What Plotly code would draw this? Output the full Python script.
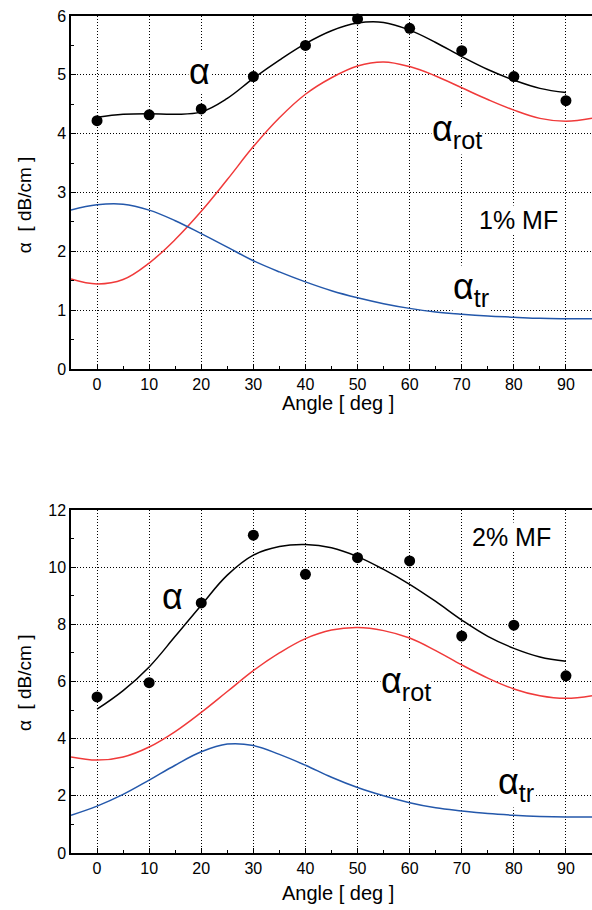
import plotly.graph_objects as go

# ---------------- data ----------------
# measured points (both panels)
angle_pts = [0, 10, 20, 30, 40, 50, 60, 70, 80, 90]
alpha_pts_1 = [4.22, 4.32, 4.42, 4.97, 5.50, 5.95, 5.79, 5.41, 4.97, 4.56]
alpha_pts_2 = [5.46, 5.96, 8.75, 11.12, 9.75, 10.33, 10.22, 7.59, 7.97, 6.20]

# fitted alpha curve (0..90)
angle_fit = [0, 5, 10, 15, 20, 25, 30, 35, 40, 45, 50, 55, 60, 65, 70, 75, 80, 85, 90]
alpha_fit_1 = [4.28, 4.33, 4.34, 4.33, 4.37, 4.60, 4.94, 5.25, 5.53, 5.75, 5.88, 5.89,
               5.76, 5.55, 5.31, 5.09, 4.91, 4.77, 4.70]
alpha_fit_2 = [5.03, 5.68, 6.51, 7.58, 8.67, 9.72, 10.42, 10.72, 10.79, 10.68, 10.37,
               9.92, 9.40, 8.80, 8.15, 7.58, 7.16, 6.86, 6.71]

# component curves (-5..95)
angle_comp = [-5, 0, 5, 10, 15, 20, 25, 30, 35, 40, 45, 50, 55, 60, 65, 70, 75, 80, 85, 90, 95]
alpha_rot_1 = [1.53, 1.445, 1.52, 1.80, 2.20, 2.68, 3.22, 3.78, 4.27, 4.67, 4.95, 5.15,
               5.22, 5.14, 4.98, 4.78, 4.58, 4.40, 4.26, 4.21, 4.26]
alpha_tr_1 = [2.70, 2.79, 2.80, 2.70, 2.52, 2.30, 2.07, 1.84, 1.65, 1.48, 1.33, 1.21,
              1.11, 1.03, 0.97, 0.93, 0.90, 0.88, 0.86, 0.855, 0.855]
alpha_rot_2 = [3.36, 3.25, 3.36, 3.71, 4.25, 4.92, 5.65, 6.38, 7.00, 7.50, 7.80, 7.89,
               7.78, 7.52, 7.08, 6.58, 6.12, 5.74, 5.50, 5.41, 5.50]
alpha_tr_2 = [1.32, 1.64, 2.05, 2.55, 3.07, 3.54, 3.81, 3.76, 3.45, 3.07, 2.65, 2.29,
              2.00, 1.76, 1.58, 1.47, 1.38, 1.32, 1.28, 1.26, 1.26]

x_ticks = [0, 10, 20, 30, 40, 50, 60, 70, 80, 90]
y_ticks_1 = [0, 1, 2, 3, 4, 5, 6]
y_ticks_2 = [0, 2, 4, 6, 8, 10, 12]

BLACK = "#000000"
RED = "#f03a3a"
BLUE = "#2458ab"
FONT = "Liberation Sans, Arial, sans-serif"

fig = go.Figure()

panels = [
    ("x", "y", alpha_pts_1, alpha_fit_1, alpha_rot_1, alpha_tr_1),
    ("x2", "y2", alpha_pts_2, alpha_fit_2, alpha_rot_2, alpha_tr_2),
]
for xa, ya, pts, fit, rot, tr in panels:
    fig.add_trace(go.Scatter(x=angle_comp, y=rot, mode="lines",
                             line=dict(color=RED, width=1.5, shape="spline", smoothing=1.1),
                             xaxis=xa, yaxis=ya, showlegend=False))
    fig.add_trace(go.Scatter(x=angle_comp, y=tr, mode="lines",
                             line=dict(color=BLUE, width=1.5, shape="spline", smoothing=1.1),
                             xaxis=xa, yaxis=ya, showlegend=False))
    fig.add_trace(go.Scatter(x=angle_fit, y=fit, mode="lines",
                             line=dict(color=BLACK, width=1.5, shape="spline", smoothing=1.1),
                             xaxis=xa, yaxis=ya, showlegend=False))
    fig.add_trace(go.Scatter(x=angle_pts, y=pts, mode="markers", marker=dict(color=BLACK, size=11),
                             cliponaxis=False, xaxis=xa, yaxis=ya, showlegend=False))

GRID_DASH = "1px,2px"
axis_common = dict(
    showline=True, linecolor=BLACK, linewidth=1.5,
    ticks="inside", ticklen=5, tickcolor=BLACK, tickwidth=1,
    showgrid=True, gridcolor=BLACK, gridwidth=1, griddash=GRID_DASH,
    zeroline=False, automargin=False,
    tickfont=dict(family=FONT, size=16, color=BLACK),
)

xcommon = dict(axis_common, range=[-5, 95], tickvals=x_ticks, mirror=True,
               minor=dict(ticks="inside", ticklen=3, tickcolor=BLACK, dtick=5, tick0=0, showgrid=False))

fig.update_layout(
    width=592, height=910,
    margin=dict(l=71, r=0, t=16, b=57),
    plot_bgcolor="white", paper_bgcolor="white",
    font=dict(family=FONT, color=BLACK),
    xaxis=dict(xcommon, domain=[0, 1], anchor="y"),
    yaxis=dict(axis_common, domain=[0.5783, 1], anchor="x", range=[0, 6], tickvals=y_ticks_1,
               minor=dict(ticks="inside", ticklen=3, tickcolor=BLACK, dtick=0.5, tick0=0, showgrid=False)),
    xaxis2=dict(xcommon, domain=[0, 1], anchor="y2"),
    yaxis2=dict(axis_common, domain=[0, 0.4098], anchor="x2", range=[0, 12], tickvals=y_ticks_2,
                minor=dict(ticks="inside", ticklen=3, tickcolor=BLACK, dtick=1, tick0=0, showgrid=False)),
)

# axis titles
for ypos in [0.5376, -0.0478]:
    fig.add_annotation(text="Angle [ deg ]", xref="paper", yref="paper", x=0.5125, y=ypos,
                       showarrow=False, xanchor="center", yanchor="middle",
                       font=dict(family=FONT, size=20, color=BLACK))
for ypos in [0.774, 0.203]:
    fig.add_annotation(text="\u03b1  [ dB/cm ]", xref="paper", yref="paper", x=0, y=ypos,
                       xshift=-47, showarrow=False, xanchor="center", yanchor="middle",
                       textangle=-90, font=dict(family=FONT, size=19, color=BLACK))


def label(text, x, y, xref, yref, size):
    fig.add_annotation(text=text, x=x, y=y, xref=xref, yref=yref, showarrow=False,
                       font=dict(family=FONT, size=size, color=BLACK), bgcolor="white",
                       xanchor="center", yanchor="middle", borderpad=0)

# top panel labels
label("\u03b1", 19.7, 5.05, "x", "y", 36)
label("\u03b1<sub>rot</sub>", 69.0, 4.05, "x", "y", 36)
label("1% MF", 80.9, 2.53, "x", "y", 25)
label("\u03b1<sub>tr</sub>", 71.8, 1.36, "x", "y", 36)
# bottom panel labels
label("\u03b1", 14.5, 8.99, "x2", "y2", 36)
label("2% MF", 79.6, 11.05, "x2", "y2", 25)
label("\u03b1<sub>rot</sub>", 59.3, 5.95, "x2", "y2", 36)
label("\u03b1<sub>tr</sub>", 80.4, 2.40, "x2", "y2", 36)

# remove the default 8px page margin so the figure sits at the window's top-left corner
fig.write_html("out.html", config={"displayModeBar": False},
               post_script="document.body.style.margin='0px';")
